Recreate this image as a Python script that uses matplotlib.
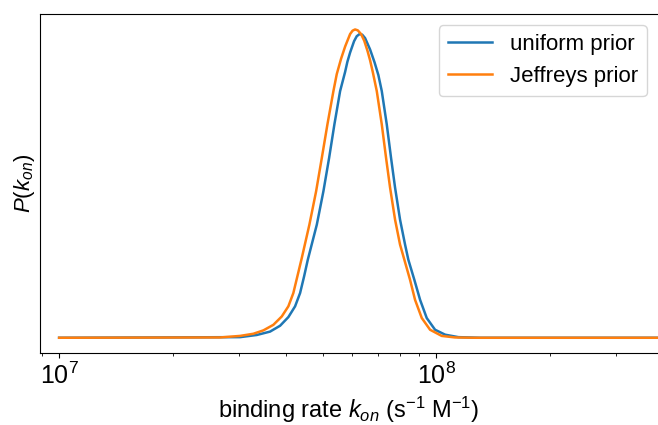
import matplotlib
matplotlib.use('Agg')
import matplotlib.pyplot as plt

plt.rcParams['font.family'] = ['Liberation Sans', 'DejaVu Sans']
plt.rcParams['mathtext.fontset'] = 'custom'
plt.rcParams['mathtext.rm'] = 'Liberation Sans'
plt.rcParams['mathtext.it'] = 'Liberation Sans:italic'

# binding rate k_on (s^-1 M^-1) and relative posterior height
k_uniform = [1.0e7, 3.02e7, 3.345e7, 3.628e7, 3.857e7, 4.057e7, 4.227e7, 4.358e7,
             4.466e7, 4.568e7, 4.827e7, 5.025e7, 5.203e7, 5.374e7, 5.565e7, 5.737e7,
             5.818e7, 5.915e7, 6.061e7, 6.160e7, 6.268e7, 6.370e7, 6.482e7, 6.683e7,
             6.869e7, 7.030e7, 7.178e7, 7.400e7, 7.597e7, 7.785e7, 8.026e7, 8.276e7,
             8.443e7, 8.758e7, 9.071e7, 9.447e7, 9.94e7, 1.057e8, 1.146e8, 1.308e8,
             4.0e8]
p_uniform = [0.0, 0.002, 0.009, 0.020, 0.039, 0.067, 0.102, 0.145,
             0.199, 0.253, 0.367, 0.475, 0.583, 0.692, 0.800, 0.862,
             0.895, 0.925, 0.962, 0.978, 0.985, 0.983, 0.972, 0.935,
             0.893, 0.852, 0.800, 0.692, 0.583, 0.487, 0.383, 0.302,
             0.253, 0.188, 0.123, 0.064, 0.026, 0.010, 0.002, 0.0,
             0.0]

k_jeffreys = [1.0e7, 2.674e7, 3.02e7, 3.276e7, 3.483e7, 3.702e7, 3.896e7, 4.057e7,
              4.182e7, 4.286e7, 4.404e7, 4.613e7, 4.806e7, 4.976e7, 5.150e7, 5.342e7,
              5.452e7, 5.598e7, 5.740e7, 5.915e7, 6.005e7, 6.098e7, 6.200e7, 6.326e7,
              6.450e7, 6.580e7, 6.683e7, 6.794e7, 6.962e7, 7.178e7, 7.369e7, 7.551e7,
              7.785e7, 8.026e7, 8.240e7, 8.531e7, 8.796e7, 9.165e7, 9.641e7, 1.035e8,
              1.123e8, 1.269e8, 4.0e8]
p_jeffreys = [0.0, 0.001, 0.006, 0.013, 0.024, 0.042, 0.069, 0.102,
              0.145, 0.199, 0.259, 0.367, 0.475, 0.583, 0.692, 0.800,
              0.855, 0.905, 0.945, 0.985, 0.996, 1.0, 0.997, 0.985,
              0.963, 0.930, 0.900, 0.862, 0.800, 0.692, 0.583, 0.487,
              0.383, 0.302, 0.253, 0.188, 0.123, 0.064, 0.026, 0.006,
              0.001, 0.0, 0.0]

fig = plt.figure(figsize=(6.58, 4.25), dpi=100)
ax = fig.add_axes([0.061, 0.169, 0.939, 0.798])
ax.plot(k_uniform, p_uniform, lw=1.8, label='uniform prior')
ax.plot(k_jeffreys, p_jeffreys, lw=1.8, label='Jeffreys prior')
ax.set_xscale('log')
ax.set_xlim(8.905e6, 3.88e8)
ax.set_yticks([])
ax.spines['right'].set_visible(False)
ax.set_xlabel(r'binding rate $k_{on}$ (s$^{-1}$ M$^{-1}$)', fontsize=17)
ax.set_ylabel(r'$P(k_{on})$', fontsize=16, labelpad=2)
ax.tick_params(axis='x', which='major', labelsize=18)
ax.legend(loc='upper right', fontsize=16)

fig.savefig('out.png', dpi=100)
